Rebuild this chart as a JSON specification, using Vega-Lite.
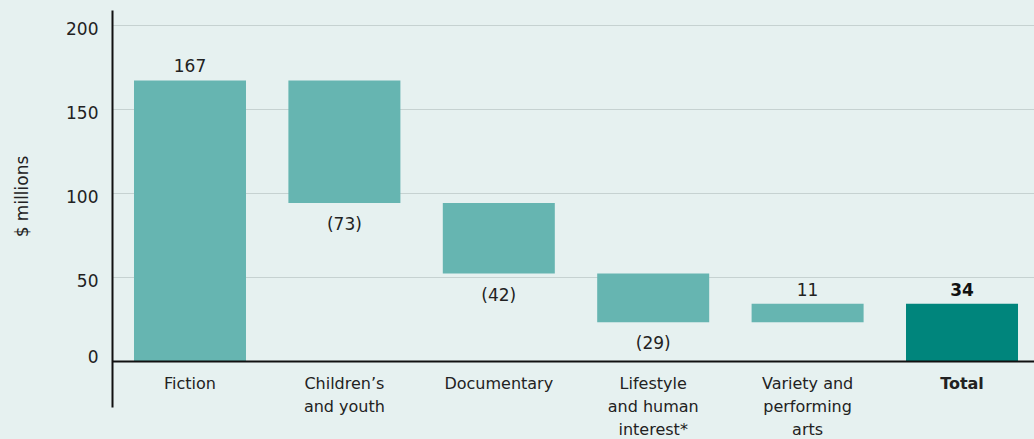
{
  "$schema": "https://vega.github.io/schema/vega-lite/v6.json",
  "width": 922,
  "height": 397,
  "autosize": {"type": "none"},
  "padding": {"left": 112, "top": 10, "right": 0, "bottom": 32},
  "background": "#e6f1f0",
  "config": {"view": {"stroke": null}, "font": "DejaVu Sans"},
  "data": {
    "values": [
      {"category": "Fiction", "start": 0, "end": 167, "value": 167, "label": "167", "kind": "change"},
      {"category": "Children’s|and youth", "start": 167, "end": 94, "value": -73, "label": "(73)", "kind": "change"},
      {"category": "Documentary", "start": 94, "end": 52, "value": -42, "label": "(42)", "kind": "change"},
      {"category": "Lifestyle|and human|interest*", "start": 52, "end": 23, "value": -29, "label": "(29)", "kind": "change"},
      {"category": "Variety and|performing|arts", "start": 23, "end": 34, "value": 11, "label": "11", "kind": "change"},
      {"category": "Total", "start": 0, "end": 34, "value": 34, "label": "34", "kind": "total"}
    ]
  },
  "encoding": {
    "x": {
      "field": "category",
      "type": "nominal",
      "sort": null,
      "scale": {"paddingInner": 0.2746, "paddingOuter": 0.123, "align": 0.579},
      "axis": {
        "title": null,
        "offset": -46,
        "zindex": 1,
        "domainColor": "#111111",
        "domainWidth": 2,
        "ticks": false,
        "labelAngle": 0,
        "labelPadding": 14,
        "labelFontSize": 16,
        "labelColor": "#222222",
        "labelLineHeight": 23,
        "labelBaseline": "top",
        "labelExpr": "split(datum.value, '|')",
        "labelFontWeight": {"condition": {"test": "datum.value == 'Total'", "value": "bold"}, "value": "normal"}
      }
    }
  },
  "layer": [
    {
      "mark": {"type": "bar"},
      "encoding": {
        "y": {
          "field": "start",
          "type": "quantitative",
          "scale": {"domain": [-27.4, 208.9], "nice": false, "zero": false},
          "axis": {
            "values": [0, 50, 100, 150, 200],
            "title": "$ millions",
            "titleFontSize": 17,
            "titleFontWeight": "normal",
            "titleColor": "#222222",
            "titleX": -90,
            "titleY": 186,
            "titleAlign": "center",
            "titleBaseline": "middle",
            "titleAngle": -90,
            "domainColor": "#111111",
            "domainWidth": 2,
            "ticks": false,
            "grid": true,
            "gridColor": "#c6d2d1",
            "gridWidth": 1,
            "labelFontSize": 17,
            "labelColor": "#222222",
            "labelPadding": 14,
            "labelOffset": {"condition": {"test": "datum.value == 0", "value": -3}, "value": 5}
          }
        },
        "y2": {"field": "end"},
        "color": {
          "field": "kind",
          "type": "nominal",
          "scale": {"domain": ["change", "total"], "range": ["#66b5b1", "#00857c"]},
          "legend": null
        }
      }
    },
    {
      "transform": [{"filter": "datum.kind == 'change' && datum.value > 0"}],
      "mark": {"type": "text", "baseline": "bottom", "dy": -4, "fontSize": 17, "color": "#222222"},
      "encoding": {
        "y": {"field": "end", "type": "quantitative"},
        "text": {"field": "label"}
      }
    },
    {
      "transform": [{"filter": "datum.value < 0"}],
      "mark": {"type": "text", "baseline": "top", "dy": 14, "fontSize": 17, "color": "#222222"},
      "encoding": {
        "y": {"field": "end", "type": "quantitative"},
        "text": {"field": "label"}
      }
    },
    {
      "transform": [{"filter": "datum.kind == 'total'"}],
      "mark": {"type": "text", "baseline": "bottom", "dy": -4, "fontSize": 17, "fontWeight": "bold", "color": "#111111"},
      "encoding": {
        "y": {"field": "end", "type": "quantitative"},
        "text": {"field": "label"}
      }
    }
  ]
}
